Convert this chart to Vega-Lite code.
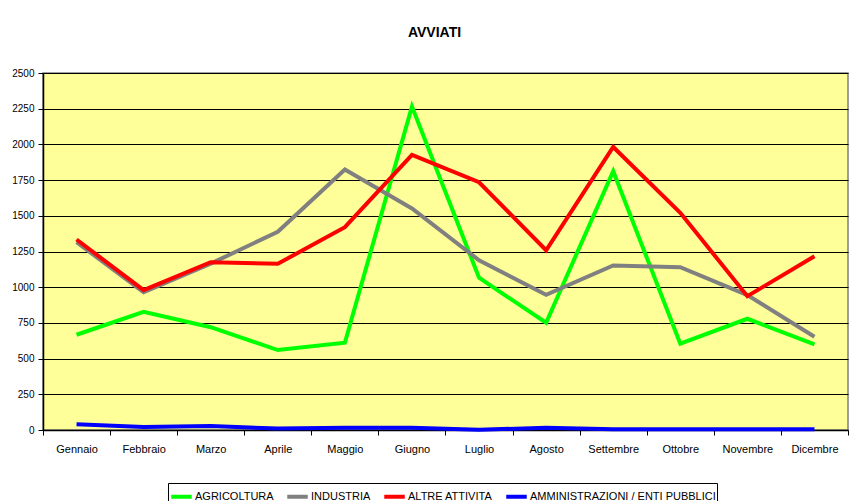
{
  "$schema": "https://vega.github.io/schema/vega-lite/v6.json",
  "autosize": {"type": "none"},
  "width": 805,
  "height": 357,
  "padding": {"left": 43, "top": 73, "right": 1, "bottom": 71},
  "background": "white",
  "title": {
    "text": "AVVIATI",
    "font": "Liberation Sans",
    "fontSize": 14,
    "fontWeight": "bold",
    "color": "black",
    "offset": 28,
    "dx": -11
  },
  "config": {
    "view": {"fill": "#FFFF99", "stroke": "#808080", "strokeWidth": 1.5},
    "font": "Liberation Sans"
  },
  "data": {
    "values": [
      {"month": "Gennaio", "sector": "AGRICOLTURA", "value": 667},
      {"month": "Febbraio", "sector": "AGRICOLTURA", "value": 828},
      {"month": "Marzo", "sector": "AGRICOLTURA", "value": 720},
      {"month": "Aprile", "sector": "AGRICOLTURA", "value": 560},
      {"month": "Maggio", "sector": "AGRICOLTURA", "value": 611},
      {"month": "Giugno", "sector": "AGRICOLTURA", "value": 2266},
      {"month": "Luglio", "sector": "AGRICOLTURA", "value": 1066},
      {"month": "Agosto", "sector": "AGRICOLTURA", "value": 751},
      {"month": "Settembre", "sector": "AGRICOLTURA", "value": 1812},
      {"month": "Ottobre", "sector": "AGRICOLTURA", "value": 604},
      {"month": "Novembre", "sector": "AGRICOLTURA", "value": 779},
      {"month": "Dicembre", "sector": "AGRICOLTURA", "value": 600},
      {"month": "Gennaio", "sector": "INDUSTRIA", "value": 1315},
      {"month": "Febbraio", "sector": "INDUSTRIA", "value": 965},
      {"month": "Marzo", "sector": "INDUSTRIA", "value": 1165},
      {"month": "Aprile", "sector": "INDUSTRIA", "value": 1388},
      {"month": "Maggio", "sector": "INDUSTRIA", "value": 1824},
      {"month": "Giugno", "sector": "INDUSTRIA", "value": 1551},
      {"month": "Luglio", "sector": "INDUSTRIA", "value": 1189},
      {"month": "Agosto", "sector": "INDUSTRIA", "value": 947},
      {"month": "Settembre", "sector": "INDUSTRIA", "value": 1152},
      {"month": "Ottobre", "sector": "INDUSTRIA", "value": 1140},
      {"month": "Novembre", "sector": "INDUSTRIA", "value": 945},
      {"month": "Dicembre", "sector": "INDUSTRIA", "value": 653},
      {"month": "Gennaio", "sector": "ALTRE ATTIVITA", "value": 1334},
      {"month": "Febbraio", "sector": "ALTRE ATTIVITA", "value": 979},
      {"month": "Marzo", "sector": "ALTRE ATTIVITA", "value": 1175},
      {"month": "Aprile", "sector": "ALTRE ATTIVITA", "value": 1164},
      {"month": "Maggio", "sector": "ALTRE ATTIVITA", "value": 1420},
      {"month": "Giugno", "sector": "ALTRE ATTIVITA", "value": 1926},
      {"month": "Luglio", "sector": "ALTRE ATTIVITA", "value": 1735},
      {"month": "Agosto", "sector": "ALTRE ATTIVITA", "value": 1259},
      {"month": "Settembre", "sector": "ALTRE ATTIVITA", "value": 1982},
      {"month": "Ottobre", "sector": "ALTRE ATTIVITA", "value": 1521},
      {"month": "Novembre", "sector": "ALTRE ATTIVITA", "value": 937},
      {"month": "Dicembre", "sector": "ALTRE ATTIVITA", "value": 1217},
      {"month": "Gennaio", "sector": "AMMINISTRAZIONI / ENTI PUBBLICI", "value": 40},
      {"month": "Febbraio", "sector": "AMMINISTRAZIONI / ENTI PUBBLICI", "value": 21},
      {"month": "Marzo", "sector": "AMMINISTRAZIONI / ENTI PUBBLICI", "value": 28},
      {"month": "Aprile", "sector": "AMMINISTRAZIONI / ENTI PUBBLICI", "value": 10},
      {"month": "Maggio", "sector": "AMMINISTRAZIONI / ENTI PUBBLICI", "value": 15},
      {"month": "Giugno", "sector": "AMMINISTRAZIONI / ENTI PUBBLICI", "value": 15},
      {"month": "Luglio", "sector": "AMMINISTRAZIONI / ENTI PUBBLICI", "value": 2},
      {"month": "Agosto", "sector": "AMMINISTRAZIONI / ENTI PUBBLICI", "value": 15},
      {"month": "Settembre", "sector": "AMMINISTRAZIONI / ENTI PUBBLICI", "value": 6},
      {"month": "Ottobre", "sector": "AMMINISTRAZIONI / ENTI PUBBLICI", "value": 5},
      {"month": "Novembre", "sector": "AMMINISTRAZIONI / ENTI PUBBLICI", "value": 5},
      {"month": "Dicembre", "sector": "AMMINISTRAZIONI / ENTI PUBBLICI", "value": 5}
    ]
  },
  "mark": {"type": "line", "strokeWidth": 4},
  "encoding": {
    "x": {
      "field": "month",
      "type": "ordinal",
      "sort": ["Gennaio", "Febbraio", "Marzo", "Aprile", "Maggio", "Giugno", "Luglio", "Agosto", "Settembre", "Ottobre", "Novembre", "Dicembre"],
      "bandPosition": 0.5,
      "scale": {"type": "band", "paddingInner": 0, "paddingOuter": 0},
      "axis": {
        "title": null,
        "labelAngle": 0,
        "labelFont": "Liberation Sans",
        "labelFontSize": 11,
        "labelColor": "black",
        "labelPadding": 8,
        "tickBand": "extent",
        "tickColor": "black",
        "tickSize": 5,
        "domainColor": "black",
        "domainWidth": 1.5,
        "grid": false
      }
    },
    "y": {
      "field": "value",
      "type": "quantitative",
      "scale": {"domain": [0, 2500], "nice": false},
      "axis": {
        "title": null,
        "format": "d",
        "values": [0, 250, 500, 750, 1000, 1250, 1500, 1750, 2000, 2250, 2500],
        "labelFont": "Liberation Sans",
        "labelFontSize": 10,
        "labelColor": "black",
        "labelPadding": 4,
        "tickColor": "black",
        "tickSize": 5,
        "domainColor": "black",
        "domainWidth": 1.5,
        "grid": true,
        "gridColor": "black",
        "gridWidth": 1,
        "gridOpacity": 1
      }
    },
    "color": {
      "field": "sector",
      "type": "nominal",
      "sort": ["AGRICOLTURA", "INDUSTRIA", "ALTRE ATTIVITA", "AMMINISTRAZIONI / ENTI PUBBLICI"],
      "scale": {
        "domain": ["AGRICOLTURA", "INDUSTRIA", "ALTRE ATTIVITA", "AMMINISTRAZIONI / ENTI PUBBLICI"],
        "range": ["#00FF00", "#808080", "#FF0000", "#0000FF"]
      },
      "legend": {
        "title": null,
        "orient": "none",
        "direction": "horizontal",
        "legendX": 125,
        "legendY": 410,
        "symbolType": "stroke",
        "symbolStrokeWidth": 4,
        "symbolSize": 420,
        "labelFont": "Liberation Sans",
        "labelFontSize": 11,
        "labelColor": "black",
        "labelLimit": 0,
        "labelOffset": 1,
        "columnPadding": 5,
        "padding": 1,
        "strokeColor": "black",
        "fillColor": "white"
      }
    }
  }
}
